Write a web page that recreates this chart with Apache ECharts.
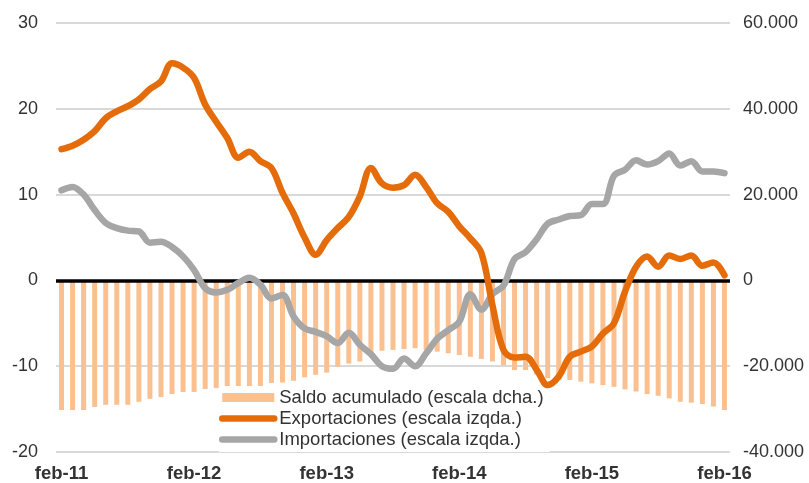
<!DOCTYPE html>
<html>
<head>
<meta charset="utf-8">
<script src="https://cdn.jsdelivr.net/npm/echarts@6/dist/echarts.min.js"></script>
<style>
  html, body { margin: 0; padding: 0; background: #fff; }
  #chart { width: 809px; height: 483px; }
</style>
</head>
<body>
<div id="chart"></div>
<script>
// Meses del periodo feb-11 a feb-16
const meses = ['ene', 'feb', 'mar', 'abr', 'may', 'jun', 'jul', 'ago', 'sep', 'oct', 'nov', 'dic'];
const categorias = [];
for (let anio = 11; anio <= 16; anio++) {
  for (let m = 0; m < 12; m++) {
    if ((anio === 11 && m < 1) || (anio === 16 && m > 1)) continue;
    categorias.push(meses[m] + '-' + anio);
  }
}

// Exportaciones, tasa de variación (escala izquierda, %)
const exportaciones = [
  15.3, 15.7, 16.4, 17.4, 18.9, 19.7, 20.3, 21.1, 22.3, 23.2,
  25.3, 24.8, 23.6, 20.5, 18.5, 16.6, 14.3, 15.0, 13.9, 13.1,
  10.2, 7.8, 5.0, 3.0, 4.7, 6.1, 7.4, 9.8, 13.1, 11.3,
  10.8, 11.1, 12.3, 10.9, 9.0, 8.0, 6.3, 4.9, 3.2, -2.9,
  -8.1, -9.0, -8.9, -10.4, -12.2, -11.2, -8.9, -8.3, -7.7, -6.2,
  -5.0, -1.3, 1.6, 2.8, 1.6, 2.9, 2.5, 2.9, 1.7, 2.1,
  0.6
];

// Importaciones, tasa de variación (escala izquierda, %)
const importaciones = [
  10.5, 10.9, 10.0, 8.2, 6.7, 6.1, 5.8, 5.7, 4.4, 4.5,
  3.9, 2.8, 1.2, -0.9, -1.4, -1.1, -0.3, 0.3, -0.5, -2.1,
  -1.7, -4.2, -5.6, -6.0, -6.5, -7.3, -6.1, -7.5, -8.6, -10.0,
  -10.3, -9.1, -10.0, -8.5, -6.8, -5.8, -4.8, -1.6, -3.4, -1.6,
  -0.6, 2.5, 3.3, 4.8, 6.6, 7.1, 7.5, 7.6, 8.9, 8.9,
  12.2, 12.9, 14.0, 13.5, 13.9, 14.8, 13.4, 13.9, 12.7, 12.7,
  12.5
];

// Saldo acumulado (escala derecha)
const saldo = [
  -30200, -30200, -30200, -29500, -29000, -29000, -29000, -28300, -27600, -27200,
  -26500, -26000, -26000, -25300, -25100, -25000, -24900, -24800, -24600, -23900,
  -23800, -23400, -22600, -22000, -21500, -20100, -19400, -18900, -16800, -16400,
  -16200, -16000, -15800, -16200, -16600, -17000, -17400, -17800, -18300, -18900,
  -19800, -20900, -20900, -22000, -22800, -23200, -23200, -23600, -24000, -24400,
  -24800, -25400, -25900, -26500, -26900, -27500, -28300, -28500, -28800, -29400,
  -30200
];

const nombres = [
  'Saldo acumulado (escala dcha.)',
  'Exportaciones (escala izqda.)',
  'Importaciones (escala izqda.)'
];

const fuente = '"Liberation Sans", Arial, Helvetica, sans-serif';
const miles = v => {
  const s = Math.abs(v).toString().replace(/\B(?=(\d{3})+(?!\d))/g, '.');
  return (v < 0 ? '-' : '') + s;
};

const chart = echarts.init(document.getElementById('chart'), null, { renderer: 'canvas' });
chart.setOption({
  animation: false,
  backgroundColor: '#ffffff',
  textStyle: { fontFamily: fuente },
  grid: { left: 56, right: 79, top: 23, bottom: 31, containLabel: false },
  legend: {
    orient: 'vertical',
    left: 219,
    top: 386,
    padding: [1, 6, 2, 0],
    backgroundColor: '#ffffff',
    itemWidth: 52,
    itemHeight: 9,
    itemGap: 0,
    selectedMode: false,
    lineStyle: { width: 6.5 },
    textStyle: { fontFamily: fuente, fontSize: 18.5, color: '#333', lineHeight: 21 },
    data: [
      { name: nombres[0], icon: 'rect' },
      { name: nombres[1], itemStyle: { opacity: 0 } },
      { name: nombres[2], itemStyle: { opacity: 0 } }
    ]
  },
  xAxis: {
    type: 'category',
    data: categorias,
    boundaryGap: true,
    axisLine: { show: false },
    axisTick: { show: false },
    splitLine: { show: false },
    axisLabel: {
      interval: 11,
      margin: 12,
      fontFamily: fuente,
      fontSize: 18.5,
      fontWeight: 'bold',
      color: '#333'
    }
  },
  yAxis: [
    {
      type: 'value',
      min: -20,
      max: 30,
      interval: 10,
      axisLine: { show: false },
      axisTick: { show: false },
      axisLabel: { margin: 18, fontFamily: fuente, fontSize: 18, color: '#333' },
      splitLine: { lineStyle: { color: '#d9d9d9', width: 2 } }
    },
    {
      type: 'value',
      min: -40000,
      max: 60000,
      interval: 20000,
      axisLine: { show: false },
      axisTick: { show: false },
      splitLine: { show: false },
      axisLabel: { margin: 13, fontFamily: fuente, fontSize: 18, color: '#333', formatter: miles }
    }
  ],
  series: [
    {
      name: nombres[0],
      type: 'bar',
      yAxisIndex: 1,
      data: saldo,
      barWidth: 5,
      z: 2,
      itemStyle: { color: '#FAC090' },
      markLine: {
        silent: true,
        symbol: 'none',
        label: { show: false },
        lineStyle: { color: '#000000', width: 3.5, type: 'solid' },
        data: [{ yAxis: 0 }]
      }
    },
    {
      name: nombres[1],
      type: 'line',
      yAxisIndex: 0,
      data: exportaciones,
      smooth: 0.35,
      symbol: 'none',
      z: 7,
      itemStyle: { color: '#E46C0A' },
      lineStyle: { color: '#E46C0A', width: 6.5, cap: 'round', join: 'round' }
    },
    {
      name: nombres[2],
      type: 'line',
      yAxisIndex: 0,
      data: importaciones,
      smooth: 0.35,
      symbol: 'none',
      z: 6,
      itemStyle: { color: '#A6A6A6' },
      lineStyle: { color: '#A6A6A6', width: 6.5, cap: 'round', join: 'round' }
    }
  ]
});
</script>
</body>
</html>
